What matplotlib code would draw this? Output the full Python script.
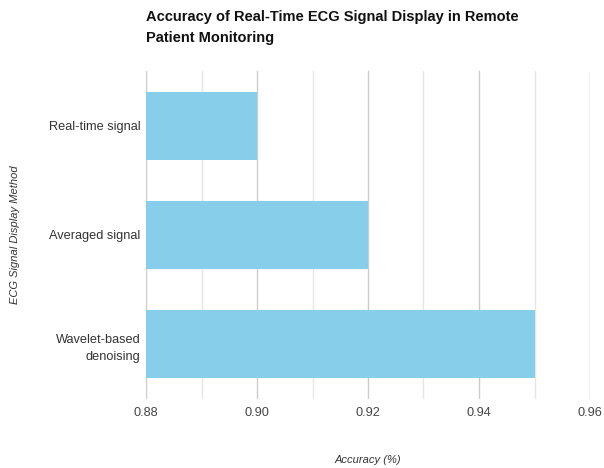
import matplotlib
matplotlib.use("Agg")
import matplotlib.pyplot as plt
from matplotlib.ticker import MultipleLocator

categories = ["Real-time signal", "Averaged signal", "Wavelet-based\ndenoising"]
accuracy = [0.90, 0.92, 0.95]
xticks = [0.88, 0.90, 0.92, 0.94, 0.96]

plt.rcParams['font.family'] = ['Liberation Sans', 'DejaVu Sans']

fig = plt.figure(figsize=(6.04, 4.68), dpi=100)
ax = fig.add_axes([146/604, 1-399/468, (590-146)/604, (399-71)/468])

ypos = list(range(len(categories)))
ax.barh(ypos, accuracy, height=0.62, color='#87CEEB', zorder=2)
ax.set_ylim(len(categories)-0.5, -0.5)
ax.set_yticks(ypos)
ax.set_yticklabels(categories, fontsize=9.2, color='#333333', linespacing=1.6,
                   multialignment='right')
ax.set_xlim(0.88, 0.96)
ax.set_xticks(xticks)
ax.set_xticklabels([f"{v:.2f}" for v in xticks], fontsize=9.2, color='#444444')
ax.xaxis.set_minor_locator(MultipleLocator(0.01))
ax.grid(axis='x', which='major', color='#cccccc', linewidth=1, zorder=0)
ax.grid(axis='x', which='minor', color='#e6e6e6', linewidth=1, zorder=0)
ax.tick_params(axis='both', which='both', length=0)
ax.tick_params(axis='x', pad=6)
ax.tick_params(axis='y', pad=4)
for s in ax.spines.values():
    s.set_visible(False)

ax.set_xlabel("Accuracy (%)", fontsize=8, style='italic', color='#333333')
ax.xaxis.set_label_coords(0.5, -61/328)
ax.xaxis.label.set_va('center')
ax.set_ylabel("ECG Signal Display Method", fontsize=8, style='italic', color='#333333')
ax.yaxis.set_label_coords(-131/444, 0.5)
ax.yaxis.label.set_va('center')

fig.text(146/604, 1-10/468, "Accuracy of Real-Time ECG Signal Display in Remote\nPatient Monitoring",
         fontsize=10.5, fontweight='bold', color='#111111',
         ha='left', va='top', linespacing=1.6)

fig.savefig("out.png", dpi=100)
